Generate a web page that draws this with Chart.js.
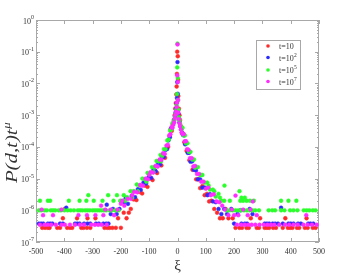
<!DOCTYPE html>
<html><head><meta charset="utf-8">
<script src="https://cdn.jsdelivr.net/npm/chart.js@4.4.0/dist/chart.umd.min.js"></script>
<style>html,body{margin:0;padding:0;background:#fff;}</style>
</head><body>
<canvas id="c" width="354" height="275"></canvas>
<script>
const seriesLabels = ['t=10', 't=10', 't=10', 't=10'];
const seriesSup = ['', '2', '5', '7'];
const seriesColors = ['#ff2b2b', '#2b2bff', '#2bff2b', '#ff2bff'];
const xTicks = [-500, -400, -300, -200, -100, 0, 100, 200, 300, 400, 500];
const xTickLabels = ['-500', '-400', '-300', '-200', '-100', '0', '100', '200', '300', '400', '500'];
const yTicks = [1e-7, 1e-6, 1e-5, 1e-4, 1e-3, 1e-2, 1e-1, 1e0];
const yTickSup = ['-7', '-6', '-5', '-4', '-3', '-2', '-1', '0'];

const redPoints = [
 [-1,1.0e-1],[1,7.2e-2],[-2,2.0e-2],[2,1.3e-2],[-3,8e-3],[3,4e-3],[-4,4.5e-3],[5,1.6e-3],[-6,2.4e-3],[7,1.0e-3],[-8,1.6e-3],[9,7e-4],[-10,1.0e-3],[12,4.5e-4],[-13,7e-4],[16,2.8e-4],[-17,5e-4],
 [-20,3.2e-4],[-24,3.6e-4],[-28,2.2e-4],[-33,1.0e-4],[-38,9.5e-5],[-44,4.5e-5],[-50,5e-5],[-57,2.6e-5],[-64,3e-5],[-72,1.5e-5],[-80,1.8e-5],[-88,9e-6],[-97,1e-5],[-106,5.5e-6],[-115,6e-6],[-125,3.4e-6],[-135,3.8e-6],[-145,2.1e-6],[-155,2.2e-6],[-165,1.1e-6],[-172,8.4e-7],[-180,5.6e-7],[-190,8.4e-7],
 [-478,2.8e-7],[-468,2.8e-7],[-458,2.8e-7],[-452,2.8e-7],[-425,2.8e-7],[-415,2.8e-7],[-405,5.6e-7],[-398,1.1e-6],[-390,2.8e-7],[-380,2.8e-7],[-372,2.8e-7],[-355,5.6e-7],[-340,2.8e-7],[-332,2.8e-7],[-320,2.8e-7],[-318,5.6e-7],[-308,2.8e-7],[-290,5.6e-7],[-258,2.8e-7],[-248,2.8e-7],[-240,2.8e-7],[-230,2.8e-7],[-218,2.8e-7],[-210,5.6e-7],[-200,2.8e-7],
 [20,2.6e-4],[24,1.4e-4],[28,1.3e-4],[32,7.5e-5],[37,7e-5],[42,3.8e-5],[47,3.8e-5],[53,1.9e-5],[59,2e-5],[66,9.5e-6],[73,9.5e-6],[80,5e-6],[88,5.8e-6],[96,3e-6],[104,3.3e-6],[112,1.9e-6],[120,2e-6],[130,1.1e-6],[140,8.4e-7],[150,5.6e-7],[160,5.6e-7],[170,1.1e-6],
 [180,5.6e-7],[195,5.6e-7],[205,2.8e-7],[219,2.8e-7],[228,2.8e-7],[244,2.8e-7],[252,2.8e-7],[259,5.6e-7],[280,2.8e-7],[288,2.8e-7],[292,5.6e-7],[308,2.8e-7],[316,2.8e-7],[324,2.8e-7],[338,2.8e-7],[348,2.8e-7],[372,2.8e-7],[381,5.6e-7],[390,2.8e-7],[398,2.8e-7],[406,2.8e-7],[422,2.8e-7],[430,2.8e-7],[450,2.8e-7],[456,5.6e-7],[460,2.8e-7],[478,2.8e-7],[488,2.8e-7]
];

const bluePoints = [
 [0,4.7e-2],[-1,1.1e-2],[1,4.7e-3],[-2,3.5e-3],[2,1.4e-3],[-3,2.4e-3],[3,1.1e-3],[-5,1.6e-3],[5,8e-4],[-7,1.2e-3],[7,6e-4],[-9,9e-4],[10,4.5e-4],[-12,7e-4],[13,3.5e-4],[-15,5.5e-4],[16,2.8e-4],
 [-19,4e-4],[-23,3.8e-4],[-27,2e-4],[-32,1.6e-4],[-37,8.5e-5],[-43,8e-5],[-49,4.8e-5],[-55,5e-5],[-62,2.8e-5],[-69,2.9e-5],[-77,1.7e-5],[-85,1.9e-5],[-93,1.05e-5],[-102,1.1e-5],[-111,7e-6],[-120,7.5e-6],[-130,4.4e-6],[-140,4.6e-6],[-150,2.6e-6],[-162,2.8e-6],[-175,1.6e-6],[-183,2.4e-6],[-188,1.8e-6],[-200,1.9e-6],[-205,1.1e-6],[-215,7.6e-7],[-228,1.1e-6],[-250,1.5e-6],
 [-490,3.8e-7],[-482,3.8e-7],[-474,3.8e-7],[-458,3.8e-7],[-450,3.8e-7],[-442,3.8e-7],[-415,3.8e-7],[-405,3.8e-7],[-393,1.2e-6],[-362,3.8e-7],[-354,3.8e-7],[-346,3.8e-7],[-330,3.8e-7],[-318,3.8e-7],[-308,3.8e-7],[-288,3.8e-7],[-278,3.8e-7],[-262,3.8e-7],[-252,3.8e-7],[-244,3.8e-7],[-236,7.6e-7],
 [19,2.4e-4],[23,2.3e-4],[27,1.2e-4],[31,1.3e-4],[36,6.5e-5],[41,6.5e-5],[46,3.4e-5],[52,3.5e-5],[58,1.9e-5],[65,1.8e-5],[72,9.5e-6],[80,9.5e-6],[88,5.2e-6],[97,5.2e-6],[106,3e-6],[115,3.2e-6],[125,1.9e-6],[135,1.8e-6],[145,1.1e-6],[155,7.6e-7],[165,1.1e-6],[175,7.6e-7],[190,1.1e-6],
 [200,3.8e-7],[212,7.6e-7],[222,1.0e-6],[226,3.8e-7],[238,3.8e-7],[246,3.8e-7],[255,1.1e-6],[265,7.6e-7],[308,3.8e-7],[316,3.8e-7],[324,3.8e-7],[336,3.8e-7],[345,3.8e-7],[355,3.8e-7],[366,1.2e-6],[372,3.8e-7],[392,3.8e-7],[400,3.8e-7],[410,3.8e-7],[426,3.8e-7],[436,3.8e-7],[462,3.8e-7],[470,3.8e-7],[480,3.8e-7]
];

const greenPoints = [
 [0,1.8e-1],[-1,3.2e-2],[1,1.5e-2],[-2,4.6e-3],[2,3e-3],[-3,2e-3],[3,1.5e-3],[-4,1.5e-3],[5,8.7e-4],[-6,1.1e-3],[7,7e-4],[-8,9e-4],[9,5.5e-4],[-11,7e-4],[11,4.5e-4],[-14,6e-4],[14,3.5e-4],
 [-18,5.5e-4],[-22,3.5e-4],[-26,3.2e-4],[-31,1.7e-4],[-36,1.6e-4],[-42,8.5e-5],[-48,8.5e-5],[-54,5.2e-5],[-60,5.6e-5],[-67,3.5e-5],[-74,3.6e-5],[-82,2.2e-5],[-90,2.3e-5],[-98,1.4e-5],[-106,1.5e-5],[-115,9.5e-6],[-124,1e-5],[-134,6e-6],[-144,6.5e-6],[-155,4e-6],[-166,4e-6],[-178,2.6e-6],[-190,3e-6],[-202,2e-6],[-214,3e-6],[-226,2e-6],[-240,1e-6],
 [-58,3.5e-5],[-85,1.6e-5],[-110,8e-6],[-140,4e-6],[-160,2.5e-6],[-185,2e-6],[-208,1e-6],[-220,1e-6],[-232,1e-6],[-245,3e-6],[-265,2e-6],
 [-490,1e-6],[-482,1e-6],[-470,1e-6],[-462,1e-6],[-448,1e-6],[-440,1e-6],[-432,1e-6],[-420,1e-6],[-412,1e-6],[-400,1e-6],[-388,1e-6],[-378,1e-6],[-366,1e-6],[-352,1e-6],[-344,1e-6],[-336,1e-6],[-326,1e-6],[-318,1e-6],[-310,1e-6],[-300,1e-6],[-292,1e-6],[-284,1e-6],[-276,1e-6],[-268,1e-6],[-260,1e-6],[-252,1e-6],
 [-486,2e-6],[-458,2e-6],[-450,2e-6],[-384,2e-6],[-346,2e-6],[-322,2e-6],[-296,2e-6],[-315,3e-6],
 [18,4e-4],[22,2.3e-4],[26,2.3e-4],[30,1.3e-4],[35,1.3e-4],[40,7e-5],[46,7e-5],[52,4e-5],[58,4e-5],[65,2.3e-5],[72,2.3e-5],[80,1.3e-5],[88,1.3e-5],[96,7.5e-6],[105,7.5e-6],[115,4.5e-6],[125,4.5e-6],[135,2.7e-6],[145,3.3e-6],[155,2e-6],[165,2e-6],[175,1e-6],
 [62,2.2e-5],[84,1.3e-5],[110,6e-6],[130,4e-6],[166,6e-6],[150,2.5e-6],[185,2e-6],[219,4e-6],
 [185,1e-6],[195,1e-6],[205,1e-6],[215,1e-6],[225,1e-6],[235,1e-6],[245,1e-6],[255,1e-6],[265,1e-6],[275,1e-6],[288,1e-6],[322,1e-6],[335,1e-6],[345,1e-6],[366,1e-6],[378,1e-6],[398,1e-6],[410,1e-6],[424,1e-6],[446,1e-6],[456,1e-6],[466,1e-6],[478,1e-6],[488,1e-6],
 [222,2e-6],[232,2e-6],[244,2e-6],[256,2e-6],[270,2e-6],[366,2e-6],[392,2e-6],[420,2e-6],[226,2.5e-6],[238,2.5e-6]
];

const magentaPoints = [
 [0,1.7e-1],[-1,1.8e-2],[1,1.1e-2],[2,3e-3],[-2,2.5e-3],[-3,1.8e-3],[3,1.2e-3],[-5,1.3e-3],[5,7.5e-4],[-7,1e-3],[7,5.5e-4],[-9,8e-4],[9,4.5e-4],[-12,6e-4],[12,3.5e-4],[-15,5e-4],[15,2.8e-4],
 [-18,4e-4],[-21,4.2e-4],[-25,2.5e-4],[-29,2.3e-4],[-34,1.15e-4],[-39,1.1e-4],[-45,6e-5],[-51,6.3e-5],[-57,3.9e-5],[-63,4e-5],[-70,2.4e-5],[-78,2.5e-5],[-86,1.55e-5],[-95,1.6e-5],[-104,9.5e-6],[-113,1e-5],[-122,6e-6],[-132,6.3e-6],[-142,3.7e-6],[-153,3.8e-6],[-164,2.3e-6],[-176,2.3e-6],[-188,1.4e-6],[-200,1.6e-6],[-212,1.05e-6],[-224,7e-7],[-236,1.05e-6],
 [-100,1.3e-5],[-128,6e-6],[-160,3e-6],[-195,2e-6],[-255,1.05e-6],[-270,1.4e-6],
 [-486,3.5e-7],[-470,3.5e-7],[-458,3.5e-7],[-446,3.5e-7],[-430,3.5e-7],[-410,3.5e-7],[-398,3.5e-7],[-380,3.5e-7],[-362,3.5e-7],[-345,3.5e-7],[-330,3.5e-7],[-305,3.5e-7],[-292,3.5e-7],[-280,3.5e-7],[-268,3.5e-7],[-250,3.5e-7],
 [-475,7e-7],[-440,7e-7],[-350,7e-7],[-320,7e-7],[-290,7e-7],[-262,7e-7],[-480,1.05e-6],[-410,1.05e-6],
 [18,2.6e-4],[22,2.5e-4],[26,1.5e-4],[30,1.5e-4],[34,8.5e-5],[39,8e-5],[44,4.4e-5],[50,4.4e-5],[56,2.4e-5],[62,2.5e-5],[69,1.4e-5],[76,1.4e-5],[84,8e-6],[92,8e-6],[100,4.8e-6],[109,5.2e-6],[118,3e-6],[128,3.2e-6],[138,1.9e-6],[148,1.8e-6],[158,1.4e-6],[168,1.05e-6],[180,7e-7],[192,1.05e-6],[205,2.9e-6],
 [210,3.5e-7],[225,3.5e-7],[238,3.5e-7],[250,3.5e-7],[262,3.5e-7],[275,3.5e-7],[290,3.5e-7],[305,3.5e-7],[318,3.5e-7],[330,3.5e-7],[342,3.5e-7],[360,3.5e-7],[380,3.5e-7],[395,3.5e-7],[410,3.5e-7],[425,3.5e-7],[445,3.5e-7],[460,3.5e-7],[475,3.5e-7],[492,3.5e-7],
 [200,7e-7],[215,7e-7],[248,7e-7],[280,7e-7],[455,7e-7],[232,1.05e-6],[258,1.05e-6],[266,1.9e-6]
];

const seriesPoints = [redPoints, bluePoints, greenPoints, magentaPoints];
const drawOrder = [3, 2, 1, 0];

const SERIF = '"Liberation Serif", "DejaVu Serif", serif';
const AXIS_COLOR = '#a8a8a8';
const TEXT_COLOR = '#333';

const decorPlugin = {
  id: 'decor',
  beforeDatasetsDraw(chart) {
    const { ctx, chartArea: a, scales: { x, y } } = chart;
    ctx.save();
    ctx.strokeStyle = AXIS_COLOR;
    ctx.lineWidth = 1;
    ctx.strokeRect(a.left + 0.5, a.top + 0.5, a.right - a.left - 1, a.bottom - a.top - 1);
    ctx.beginPath();
    xTicks.forEach(v => {
      const px = Math.round(x.getPixelForValue(v)) + 0.5;
      ctx.moveTo(px, a.bottom); ctx.lineTo(px, a.bottom - 4);
      ctx.moveTo(px, a.top); ctx.lineTo(px, a.top + 4);
    });
    yTicks.forEach(v => {
      const py = Math.round(y.getPixelForValue(v)) + 0.5;
      ctx.moveTo(a.left, py); ctx.lineTo(a.left + 4, py);
      ctx.moveTo(a.right, py); ctx.lineTo(a.right - 4, py);
      if (v < 1) {
        for (let m = 2; m <= 9; m++) {
          const pm = Math.round(y.getPixelForValue(v * m)) + 0.5;
          ctx.moveTo(a.left, pm); ctx.lineTo(a.left + 2, pm);
          ctx.moveTo(a.right, pm); ctx.lineTo(a.right - 2, pm);
        }
      }
    });
    ctx.stroke();
    ctx.restore();
  },
  afterDraw(chart) {
    const { ctx, chartArea: a, scales: { x, y } } = chart;
    ctx.save();
    ctx.fillStyle = TEXT_COLOR;
    yTicks.forEach((v, i) => {
      const py = y.getPixelForValue(v);
      ctx.font = '6px ' + SERIF;
      const sw = ctx.measureText(yTickSup[i]).width;
      const right = a.left - 2;
      ctx.textAlign = 'left'; ctx.textBaseline = 'alphabetic';
      ctx.fillText(yTickSup[i], right - sw, py - 1);
      ctx.font = '8px ' + SERIF;
      ctx.textAlign = 'right'; ctx.textBaseline = 'middle';
      ctx.fillText('10', right - sw, py + 1.5);
    });
    ctx.font = '15px ' + SERIF;
    ctx.textAlign = 'center'; ctx.textBaseline = 'middle';
    ctx.fillText('ξ', (a.left + a.right) / 2, 266);
    ctx.save();
    ctx.translate(13, 153);
    ctx.rotate(-Math.PI / 2);
    ctx.scale(1.3, 1);
    ctx.font = 'italic 16px ' + SERIF;
    const main = 'P(d,t)t';
    const mw = ctx.measureText(main).width;
    ctx.font = 'italic 10px ' + SERIF;
    const uw = ctx.measureText('μ').width;
    const start = -(mw + uw) / 2;
    ctx.font = 'italic 16px ' + SERIF;
    ctx.textAlign = 'left'; ctx.textBaseline = 'middle';
    ctx.fillText(main, start, 0);
    ctx.font = 'italic 10px ' + SERIF;
    ctx.fillText('μ', start + mw + 0.5, -6);
    ctx.restore();
    const lx = 256, ly = 40, lw = 44, lh = 49;
    ctx.fillStyle = '#fff';
    ctx.fillRect(lx, ly, lw, lh);
    ctx.strokeStyle = AXIS_COLOR; ctx.lineWidth = 1;
    ctx.strokeRect(lx + 0.5, ly + 0.5, lw, lh);
    const rows = [46, 57.5, 70, 81.5];
    seriesLabels.forEach((lab, i) => {
      ctx.fillStyle = seriesColors[i];
      ctx.beginPath(); ctx.arc(268, rows[i], 1.8, 0, Math.PI * 2); ctx.fill();
      ctx.fillStyle = TEXT_COLOR;
      ctx.font = '8px ' + SERIF;
      ctx.textAlign = 'left'; ctx.textBaseline = 'middle';
      ctx.fillText(lab, 279, rows[i] + 1);
      const w = ctx.measureText(lab).width;
      if (seriesSup[i]) {
        ctx.font = '5.5px ' + SERIF;
        ctx.textBaseline = 'alphabetic';
        ctx.fillText(seriesSup[i], 279 + w + 0.3, rows[i] - 1);
      }
    });
    ctx.restore();
  }
};

const datasets = seriesPoints.map((pts, i) => ({
  label: seriesLabels[i] + seriesSup[i],
  data: pts.map(p => ({ x: p[0], y: p[1] })),
  backgroundColor: seriesColors[i],
  borderColor: seriesColors[i] + '88',
  borderWidth: 1,
  pointRadius: 1.9,
  pointStyle: 'circle',
  order: drawOrder[i]
}));

new Chart(document.getElementById('c'), {
  type: 'scatter',
  data: { datasets },
  options: {
    responsive: false,
    animation: false,
    devicePixelRatio: 1,
    layout: { padding: { left: 0, top: 20, right: 35, bottom: 0 } },
    plugins: { legend: { display: false }, tooltip: { enabled: false } },
    scales: {
      x: {
        type: 'linear', min: -500, max: 500,
        grid: { display: false, drawTicks: false },
        border: { display: false },
        afterBuildTicks: s => { s.ticks = xTicks.map(v => ({ value: v })); },
        afterFit: s => { s.height = 33; },
        ticks: {
          padding: 5, color: TEXT_COLOR, maxRotation: 0, autoSkip: false,
          font: { family: SERIF, size: 8 },
          callback: v => xTickLabels[xTicks.indexOf(v)]
        }
      },
      y: {
        type: 'logarithmic', min: 1e-7, max: 1,
        grid: { display: false, drawTicks: false },
        border: { display: false },
        afterBuildTicks: s => { s.ticks = yTicks.map(v => ({ value: v })); },
        afterFit: s => { s.width = 36; },
        ticks: { display: false }
      }
    }
  },
  plugins: [decorPlugin]
});
</script>
</body></html>
